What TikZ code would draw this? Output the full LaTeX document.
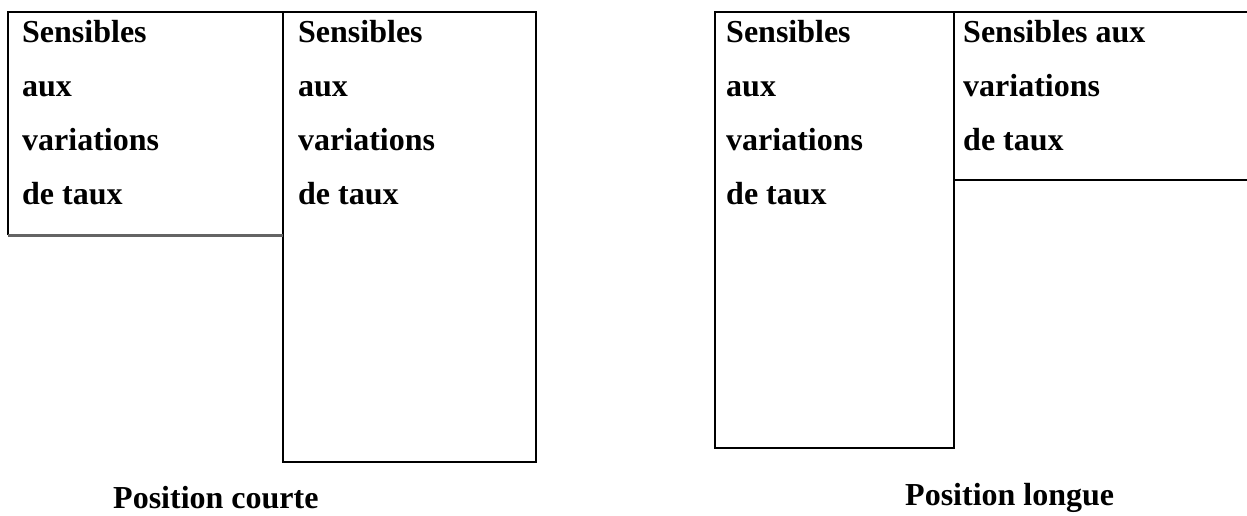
\documentclass[tikz,border=0pt]{standalone}
\usepackage{fontspec}
\setmainfont{Liberation Serif}
\begin{document}
\begin{tikzpicture}[x=1pt,y=-1pt,
  frame/.style={draw=black,line width=2.2pt},
  baseline gray/.style={draw=darkgrey,line width=3pt},
  panel/.style={draw=none,inner sep=0pt,outer sep=0pt,anchor=north west},
  lbl/.style={font=\fontsize{32}{38}\selectfont\bfseries,anchor=base west,inner sep=0pt},
  caption label/.style={font=\fontsize{32}{38}\selectfont\bfseries,anchor=base west,inner sep=0pt}]
\definecolor{darkgrey}{RGB}{100,100,100}
\useasboundingbox (0,0) rectangle (1247,515);
% panels
\node[panel,minimum width=275pt,minimum height=223pt] (b1) at (8,12) {};
\node[panel,minimum width=253pt,minimum height=450pt] (b2) at (283,12) {};
\node[panel,minimum width=239pt,minimum height=436pt] (b3) at (715,12) {};
\node[panel,minimum width=293pt,minimum height=168pt] (b4) at (954,12) {};
% frames
\draw[frame] (b1.south west) -- (b1.north west) -- (b2.north east) -- (b2.south east) -- (b2.south west) -- (b2.north west);
\draw[baseline gray] (b1.south west) -- (b1.south east);
\draw[frame] (b3.north west) rectangle (b3.south east);
\draw[frame] (b3.north east) -- (b4.north east);
\draw[frame] (b4.south west) -- (b4.south east);
% texts
\node[lbl] (t1a) at (22,42) {Sensibles};
\node[lbl] (t1b) at (22,96) {aux};
\node[lbl] (t1c) at (22,150) {variations};
\node[lbl] (t1d) at (22,204) {de taux};
\node[lbl] (t2a) at (298,42) {Sensibles};
\node[lbl] (t2b) at (298,96) {aux};
\node[lbl] (t2c) at (298,150) {variations};
\node[lbl] (t2d) at (298,204) {de taux};
\node[lbl] (t3a) at (726,42) {Sensibles};
\node[lbl] (t3b) at (726,96) {aux};
\node[lbl] (t3c) at (726,150) {variations};
\node[lbl] (t3d) at (726,204) {de taux};
\node[lbl] (t4a) at (963,42) {Sensibles aux};
\node[lbl] (t4b) at (963,96) {variations};
\node[lbl] (t4c) at (963,150) {de taux};
\node[caption label] (pc) at (113,508) {Position courte};
\node[caption label] (pl) at (905,505) {Position longue};
\end{tikzpicture}
\end{document}
